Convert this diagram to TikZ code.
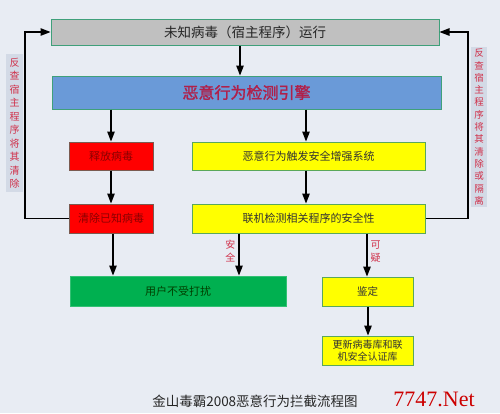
\documentclass[tikz,border=0pt]{standalone}
\usepackage{fontspec}
\newfontfamily\cjk{Noto Sans CJK SC}
\newfontfamily\cjkb[FakeBold=1.6]{Noto Sans CJK SC}
\newfontfamily\wm{Liberation Serif}
\usetikzlibrary{arrows.meta}
\definecolor{bgc}{HTML}{E8ECF3}
\definecolor{grayf}{HTML}{C0C0C0}
\definecolor{bluef}{HTML}{6A9AD8}
\definecolor{yelf}{HTML}{FFFF00}
\definecolor{redf}{HTML}{FF0000}
\definecolor{grnf}{HTML}{00B050}
\definecolor{tealb}{HTML}{3FA07A}
\definecolor{grnb}{HTML}{5AA85A}
\definecolor{redb}{HTML}{7A5A50}
\definecolor{labbg}{HTML}{D3DAE6}
\definecolor{labtxt}{HTML}{D0304A}
\definecolor{engtxt}{HTML}{B0204A}
\tikzset{
  box/.style={draw, line width=1pt, inner sep=0pt, font=\cjk},
  graybox/.style={box, fill=grayf, draw=tealb, text=black!85},
  bluebox/.style={box, fill=bluef, draw=tealb, text=engtxt},
  redbox/.style={box, fill=redf, draw=redb, text=red!55!black},
  yelbox/.style={box, fill=yelf, draw=grnb, text=black!80},
  grnbox/.style={box, fill=grnf, draw=grnf!80!white, text=green!25!black},
  arr/.style={line width=1.3pt, draw=black, -{Triangle[length=10pt,width=7.5pt]}},
  sidelab/.style={fill=labbg, text=labtxt, font=\cjk\fontsize{10}{13.5}\selectfont, align=center, inner sep=1pt},
  edgelab/.style={text=labtxt, font=\cjk\fontsize{10}{13}\selectfont, align=center, inner sep=1pt}
}
\begin{document}
\begin{tikzpicture}[x=1pt,y=-1pt]
\fill[bgc] (0,0) rectangle (500,413);
\useasboundingbox (0,0) rectangle (500,413);
\node[graybox, minimum width=388pt, minimum height=26pt, font=\cjk\fontsize{13.5}{15}\selectfont] (top) at (245,32) {未知病毒（宿主程序）运行};
\node[bluebox, minimum width=389pt, minimum height=33pt, font=\cjkb\fontsize{16}{18}\selectfont] (engine) at (246.5,92.5) {恶意行为检测引擎};
\node[redbox, minimum width=84pt, minimum height=28pt, font=\cjk\fontsize{11}{13}\selectfont] (rel) at (111,156) {释放病毒};
\node[yelbox, minimum width=233pt, minimum height=28pt, font=\cjk\fontsize{11}{13}\selectfont] (enh) at (308.5,156) {恶意行为触发安全增强系统};
\node[redbox, minimum width=84pt, minimum height=29pt, font=\cjk\fontsize{11}{13}\selectfont] (clr) at (111,218.5) {清除已知病毒};
\node[yelbox, minimum width=233pt, minimum height=29pt, font=\cjk\fontsize{11}{13}\selectfont] (onl) at (308.5,218.5) {联机检测相关程序的安全性};
\node[grnbox, minimum width=216pt, minimum height=30pt, font=\cjk\fontsize{11}{13}\selectfont] (usr) at (178,291) {用户不受打扰};
\node[yelbox, minimum width=91pt, minimum height=29pt, font=\cjk\fontsize{10.5}{12}\selectfont] (jd) at (367.5,291.5) {鉴定};
\node[yelbox, minimum width=91pt, minimum height=29pt, align=center, font=\cjk\fontsize{10}{12.5}\selectfont] (upd) at (367.5,350.5) {更新病毒库和联\\机安全认证库};
\coordinate (lft) at (25,120);
\coordinate (rgt) at (468,120);
\node[sidelab, minimum width=17pt, minimum height=138pt] (ll) at (14.5,123) {反\\查\\宿\\主\\程\\序\\将\\其\\清\\除};
\node[sidelab, minimum width=16pt, minimum height=160pt, font=\cjk\fontsize{9.5}{12.3}\selectfont] (rl) at (479,127) {反\\查\\宿\\主\\程\\序\\将\\其\\清\\除\\或\\隔\\离};
\draw[arr] (top.south -| 240,0) -- (engine.north -| 240,0);
\draw[arr] (engine.south -| rel) -- (rel.north);
\draw[arr] (engine.south -| 306,0) -- (enh.north -| 306,0);
\draw[arr] (rel.south) -- (clr.north);
\draw[arr] (enh.south -| 306,0) -- (onl.north -| 306,0);
\draw[arr] (clr.south -| 113,0) -- (usr.north -| 113,0);
\draw[arr] (onl.south -| 239,0) -- node[edgelab, left=2pt, pos=0.42] (saf) {安\\全} (usr.north -| 239,0);
\draw[arr] (onl.south -| 367,0) -- node[edgelab, right=2pt, pos=0.42] (sus) {可\\疑} (jd.north -| 367,0);
\draw[arr] (jd.south -| 368,0) -- (upd.north -| 368,0);
\draw[arr] (clr.west) -| (lft) |- (top.west);
\draw[arr] (onl.east) -| (rgt) |- (top.east);
\node[font=\cjk\fontsize{13.5}{15}\selectfont, text=black!85] (cap) at (255,401) {金山毒霸2008恶意行为拦截流程图};
\node[font=\wm\fontsize{22}{24}\selectfont, text=red!80!black] (mark) at (434,399) {7747.Net};
\end{tikzpicture}
\end{document}
